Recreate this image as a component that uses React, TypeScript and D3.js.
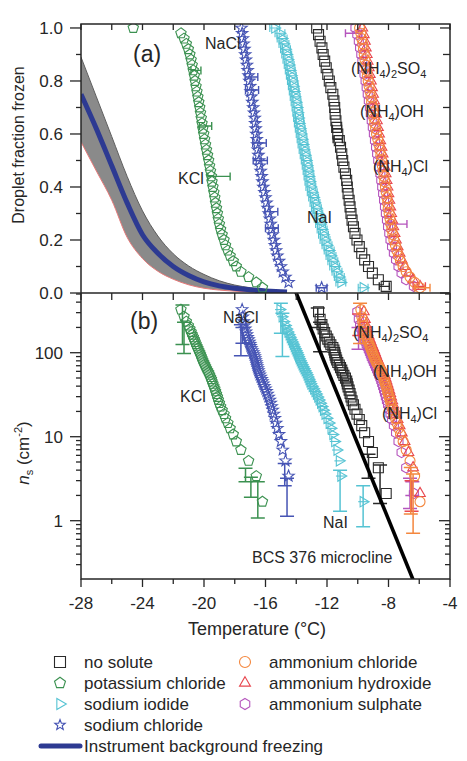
import * as d3 from "d3";

// freezing temperature of each droplet (°C), warmest droplet first
const noSoluteT = [-8.15, -8.66, -9.05, -9.3, -9.55, -9.74, -9.9, -10.05, -10.18, -10.28, -10.37, -10.44, -10.5, -10.56, -10.63, -10.68, -10.72, -10.8, -10.9, -10.98, -11.04, -11.12, -11.2, -11.3, -11.37, -11.42, -11.47, -11.5, -11.55, -11.62, -11.75, -11.85, -11.95, -12.05, -12.15, -12.25, -12.33, -12.45, -12.55, -12.67];
const kclT = [-16.2, -16.6, -17.1, -17.6, -17.9, -18.1, -18.3, -18.45, -18.6, -18.7, -18.82, -18.92, -19.0, -19.07, -19.13, -19.19, -19.25, -19.3, -19.36, -19.42, -19.48, -19.52, -19.58, -19.64, -19.7, -19.77, -19.84, -19.9, -19.96, -20.02, -20.08, -20.13, -20.18, -20.23, -20.28, -20.34, -20.4, -20.46, -20.52, -20.58, -20.63, -20.7, -20.77, -20.84, -20.92, -21.02, -21.15, -21.3, -21.5, -24.6];
const naiT = [-9.65, -11.1, -11.2, -11.35, -11.5, -11.62, -11.74, -11.86, -12.0, -12.13, -12.23, -12.32, -12.42, -12.51, -12.6, -12.69, -12.78, -12.87, -12.96, -13.05, -13.11, -13.17, -13.23, -13.29, -13.35, -13.42, -13.49, -13.56, -13.62, -13.68, -13.74, -13.8, -13.85, -13.9, -13.95, -14.01, -14.07, -14.13, -14.19, -14.25, -14.32, -14.39, -14.46, -14.54, -14.62, -14.7, -14.8, -14.92, -15.06, -15.4];
const naclT = [-12.35, -14.5, -14.7, -14.88, -15.0, -15.12, -15.23, -15.31, -15.39, -15.46, -15.53, -15.6, -15.66, -15.72, -15.79, -15.86, -15.93, -16.0, -16.07, -16.14, -16.2, -16.25, -16.31, -16.37, -16.42, -16.46, -16.5, -16.54, -16.57, -16.6, -16.64, -16.67, -16.7, -16.75, -16.8, -16.86, -16.92, -16.97, -17.0, -17.05, -17.1, -17.16, -17.21, -17.27, -17.32, -17.37, -17.42, -17.47, -17.52, -17.56];
const amClT = [-5.95, -6.3, -6.6, -6.85, -7.05, -7.22, -7.35, -7.45, -7.55, -7.65, -7.72, -7.79, -7.85, -7.9, -7.96, -8.02, -8.06, -8.1, -8.15, -8.2, -8.25, -8.3, -8.35, -8.4, -8.45, -8.5, -8.56, -8.62, -8.7, -8.78, -8.84, -8.9, -8.95, -9.0, -9.05, -9.1, -9.15, -9.2, -9.26, -9.32, -9.38, -9.43, -9.48, -9.53, -9.58, -9.63, -9.68, -9.74, -9.8, -9.88];
const amOHT = [-5.95, -6.4, -6.7, -6.95, -7.13, -7.27, -7.4, -7.51, -7.6, -7.68, -7.75, -7.82, -7.88, -7.94, -8.0, -8.06, -8.12, -8.18, -8.24, -8.31, -8.38, -8.45, -8.53, -8.61, -8.68, -8.75, -8.81, -8.87, -8.93, -9.0, -9.07, -9.14, -9.21, -9.28, -9.35, -9.41, -9.47, -9.53, -9.6, -9.7];
const amSO4T = [-6.35, -6.85, -7.15, -7.35, -7.51, -7.65, -7.77, -7.87, -7.95, -8.03, -8.1, -8.17, -8.23, -8.29, -8.35, -8.41, -8.47, -8.53, -8.6, -8.67, -8.74, -8.81, -8.88, -8.95, -9.02, -9.09, -9.15, -9.21, -9.28, -9.35, -9.42, -9.49, -9.56, -9.63, -9.7, -9.77, -9.85, -9.93, -10.03, -10.15];

// droplet surface area (cm2) used for n_s = -ln(1 - f) / A
const AREA = 0.012;
const NAI_T_ERR = 0.32;

// horizontal error bars, panel (a): [fraction, T low, T high]
const noSoluteBarsA = [[0.62, -11.65, -11.05], [0.58, -11.6, -11.0], [0.025, -8.6, -7.95]];
const kclBarsA = [[0.84, -20.85, -20.2], [0.63, -20.3, -19.5], [0.44, -19.75, -18.3]];
const naclBarsA = [[0.815, -17.33, -16.5], [0.766, -17.3, -16.45], [0.566, -16.83, -15.95], [0.5, -16.8, -15.88], [0.307, -16.03, -15.2], [0.244, -16.0, -15.17], [0.02, -12.7, -12.0]];
const amClBarsA = [[0.02, -6.3, -5.3]];
const amOHBarsA = [[0.025, -6.4, -5.6]];
const amSO4BarsA = [[0.98, -10.8, -9.74], [0.26, -7.9, -6.8]];

// vertical error bars, panel (b): [T, ns low, ns high]
const noSoluteBarsB = [[-12.6, 200, 340], [-12.45, 103, 230], [-9.3, 3.2, 6.2], [-8.55, 1.6, 4.6]];
const kclBarsB = [[-21.4, 125, 370], [-21.3, 98, 230], [-17.3, 2.9, 4.2], [-16.95, 1.9, 3.3], [-16.5, 1.08, 2.9]];
const naclBarsB = [[-17.6, 92, 215], [-17.5, 130, 200], [-14.75, 2.6, 4.8], [-14.6, 1.13, 3.2]];
const naiBarsB = [[-15.0, 170, 387], [-14.9, 90, 295], [-11.15, 1.3, 4.0], [-9.65, 0.85, 2.6]];
const amClBarsB = [[-9.85, 129, 387], [-6.4, 0.71, 3.6], [-6.55, 1.2, 4.3]];
const amOHBarsB = [[-9.9, 160, 290], [-6.5, 1.3, 3.0]];
const amSO4BarsB = [[-9.95, 110, 200], [-6.6, 1.4, 3.2], [-6.45, 2.0, 2.9]];

// instrument background freezing (fraction frozen) with uncertainty band
const bgT = [-28, -27, -26, -25, -24, -23, -22, -21, -20, -19, -18, -17, -16, -15, -14.6];
const bgMid = [0.75, 0.62, 0.48, 0.34, 0.22, 0.15, 0.1, 0.066, 0.042, 0.027, 0.018, 0.012, 0.008, 0.005, 0.004];
const bgHi = [0.89, 0.74, 0.59, 0.44, 0.31, 0.215, 0.148, 0.102, 0.07, 0.046, 0.03, 0.02, 0.013, 0.008, 0.006];
const bgLo = [0.57, 0.46, 0.35, 0.21, 0.13, 0.082, 0.052, 0.031, 0.018, 0.011, 0.007, 0.004, 0.003, 0.002, 0.002];

// BCS 376 microcline parameterisation (end points)
const microT = [-14.3, -6.2];
const microNs = [700, 0.161];

const xTicks = [-28, -26, -24, -22, -20, -18, -16, -14, -12, -10, -8, -6, -4];
const xLabels = [-28, -24, -20, -16, -12, -8, -4];
const fTicks = [0, 0.2, 0.4, 0.6, 0.8, 1.0];
const fMinor = [0.1, 0.3, 0.5, 0.7, 0.9];
const nsTicks = [1, 10, 100];

type Sym = "square" | "pentagon" | "triRight" | "star" | "circle" | "triUp" | "hexagon";

// skipB: droplets left out of the n_s plot (outliers)
const series = [
  { name: "no solute", temps: noSoluteT, color: "#2a2a2a", sym: "square" as Sym, size: 5, skipB: 0, barsA: noSoluteBarsA, barsB: noSoluteBarsB },
  { name: "potassium chloride", temps: kclT, color: "#3b9150", sym: "pentagon" as Sym, size: 5.2, skipB: 0, barsA: kclBarsA, barsB: kclBarsB },
  { name: "sodium iodide", temps: naiT, color: "#55c3d3", sym: "triRight" as Sym, size: 5.2, skipB: 0, barsA: [], barsB: naiBarsB },
  { name: "sodium chloride", temps: naclT, color: "#4654b4", sym: "star" as Sym, size: 6, skipB: 1, barsA: naclBarsA, barsB: naclBarsB },
  { name: "ammonium sulphate", temps: amSO4T, color: "#b555bd", sym: "hexagon" as Sym, size: 5.2, skipB: 0, barsA: amSO4BarsA, barsB: amSO4BarsB },
  { name: "ammonium hydroxide", temps: amOHT, color: "#e8474f", sym: "triUp" as Sym, size: 5.3, skipB: 0, barsA: amOHBarsA, barsB: amOHBarsB },
  { name: "ammonium chloride", temps: amClT, color: "#f4873e", sym: "circle" as Sym, size: 5, skipB: 0, barsA: amClBarsA, barsB: amClBarsB },
];

const legendLeft = ["no solute", "potassium chloride", "sodium iodide", "sodium chloride"];
const legendRight = ["ammonium chloride", "ammonium hydroxide", "ammonium sulphate"];

const FONT = "'Liberation Sans', Arial, Helvetica, sans-serif";
const INK = "#262626";
const NAVY = "#2d3a92";

function polygon(n: number, r: number, rot: number) {
  const pts = d3.range(n).map((i) => {
    const a = rot + (i * 2 * Math.PI) / n;
    return [r * Math.cos(a), r * Math.sin(a)];
  });
  return "M" + pts.map((p) => p[0].toFixed(2) + "," + p[1].toFixed(2)).join("L") + "Z";
}

function starPath(r: number) {
  const pts = d3.range(10).map((i) => {
    const a = -Math.PI / 2 + (i * Math.PI) / 5;
    const rr = i % 2 === 0 ? r : r * 0.42;
    return [rr * Math.cos(a), rr * Math.sin(a)];
  });
  return "M" + pts.map((p) => p[0].toFixed(2) + "," + p[1].toFixed(2)).join("L") + "Z";
}

function symbolPath(sym: Sym, s: number) {
  switch (sym) {
    case "square":
      return `M${-s},${-s}H${s}V${s}H${-s}Z`;
    case "pentagon":
      return polygon(5, s * 1.05, -Math.PI / 2);
    case "triRight":
      return polygon(3, s * 1.15, 0);
    case "star":
      return starPath(s);
    case "circle":
      return `M${s},0A${s},${s} 0 1,1 ${-s},0A${s},${s} 0 1,1 ${s},0Z`;
    case "triUp":
      return polygon(3, s * 1.15, -Math.PI / 2);
    case "hexagon":
      return polygon(6, s, -Math.PI / 2);
  }
  return "";
}

const x = d3.scaleLinear().domain([-28, -4]).range([81, 450]);
const yA = d3.scaleLinear().domain([0, 1.015]).range([293, 24]);
const yB = d3.scaleLog().domain([0.2023, 514]).range([579, 293]);

const NH4 = (rest: React.ReactNode) => (
  <>
    (NH<tspan fontSize={11} dy={4}>4</tspan>
    <tspan dy={-4}>)</tspan>
    {rest}
  </>
);

export default function App() {
  const left = x.range()[0];
  const right = x.range()[1];
  const topA = yA(1.015);
  const midY = yA(0);
  const botB = yB.range()[0];

  const nsMinor: number[] = [];
  [0.1, 1, 10, 100].forEach((d) => {
    for (let m = 2; m <= 9; m++) {
      const v = m * d;
      if (v >= 0.2023 && v <= 514) nsMinor.push(v);
    }
  });

  const bandArea = d3
    .area<number>()
    .x((t) => x(t))
    .y0((_, i) => yA(bgLo[i]))
    .y1((_, i) => yA(bgHi[i]))
    .curve(d3.curveMonotoneX);
  const lineOf = (arr: number[]) =>
    d3
      .line<number>()
      .x((_, i) => x(bgT[i]))
      .y((v) => yA(v))
      .curve(d3.curveMonotoneX)(arr) || "";

  const microLine =
    d3
      .line<number>()
      .x((t) => x(t))
      .y((_, i) => yB(microNs[i]))(microT) || "";

  const legendRow = (i: number) => 662 + i * 21;

  return (
    <svg
      width={467}
      height={761}
      viewBox="0 0 467 761"
      style={{ position: "absolute", left: 0, top: 0, background: "#fff" }}
      fontFamily={FONT}
    >
      <defs>
        <clipPath id="clipA">
          <rect x={left} y={topA} width={right - left} height={midY - topA} />
        </clipPath>
        <clipPath id="clipB">
          <rect x={left} y={midY} width={right - left} height={botB - midY} />
        </clipPath>
      </defs>

      {/* panel (a) */}
      <g clipPath="url(#clipA)">
        <path d={bandArea(bgT) || ""} fill="#8a8a8a" />
        <path d={lineOf(bgHi)} fill="none" stroke="#5e5e5e" strokeWidth={1} />
        <path d={lineOf(bgLo)} fill="none" stroke="#e77878" strokeWidth={1} />
        <path d={lineOf(bgMid)} fill="none" stroke={NAVY} strokeWidth={5} />
        {series.map((s) => {
          const n = s.temps.length;
          const pts = s.temps.map((t, i) => ({ t, f: (i + 1) / n }));
          const d = symbolPath(s.sym, s.size);
          return (
            <g key={s.name} stroke={s.color} fill="none" strokeWidth={1.1}>
              {s.sym === "triRight" &&
                pts.map((p, i) => (
                  <path
                    key={"e" + i}
                    d={`M${x(p.t - NAI_T_ERR)},${yA(p.f)}H${x(p.t + NAI_T_ERR)}M${x(p.t - NAI_T_ERR)},${yA(p.f) - 4}v8M${x(p.t + NAI_T_ERR)},${yA(p.f) - 4}v8`}
                  />
                ))}
              {s.barsA.map((b, i) => (
                <path
                  key={"b" + i}
                  strokeWidth={1.4}
                  d={`M${x(b[1])},${yA(b[0])}H${x(b[2])}M${x(b[1])},${yA(b[0]) - 4}v8M${x(b[2])},${yA(b[0]) - 4}v8`}
                />
              ))}
              {pts.map((p, i) => (
                <path key={i} d={d} transform={`translate(${x(p.t)},${yA(p.f)})`} />
              ))}
            </g>
          );
        })}
      </g>

      {/* panel (b) */}
      <g clipPath="url(#clipB)">
        {series.map((s) => {
          const n = s.temps.length;
          const pts = s.temps
            .map((t, i) => ({ t, f: (i + 1) / n }))
            .slice(s.skipB)
            .filter((p) => p.f < 1)
            .map((p) => ({ t: p.t, ns: -Math.log(1 - p.f) / AREA }));
          const d = symbolPath(s.sym, s.size);
          return (
            <g key={s.name} stroke={s.color} fill="none" strokeWidth={1.1}>
              {s.sym === "triRight" &&
                pts.map((p, i) => (
                  <path
                    key={"e" + i}
                    d={`M${x(p.t - NAI_T_ERR)},${yB(p.ns)}H${x(p.t + NAI_T_ERR)}`}
                  />
                ))}
              {s.barsB.map((b, i) => (
                <path
                  key={"b" + i}
                  strokeWidth={1.5}
                  d={`M${x(b[0])},${yB(b[1])}V${yB(b[2])}M${x(b[0]) - 7},${yB(b[1])}h14M${x(b[0]) - 7},${yB(b[2])}h14`}
                />
              ))}
              {pts.map((p, i) => (
                <path key={i} d={d} transform={`translate(${x(p.t)},${yB(p.ns)})`} />
              ))}
            </g>
          );
        })}
        <path d={microLine} stroke="#000" strokeWidth={3.6} fill="none" />
      </g>

      {/* frames */}
      <g stroke={INK} strokeWidth={1.5} fill="none">
        <rect x={left} y={topA} width={right - left} height={botB - topA} />
        <line x1={left} x2={right} y1={midY} y2={midY} />
      </g>

      {/* axes ticks */}
      <g stroke={INK} strokeWidth={1.3}>
        {fTicks.map((v) => (
          <line key={"fl" + v} x1={left - 11} x2={left} y1={yA(v)} y2={yA(v)} />
        ))}
        {fMinor.map((v) => (
          <line key={"fm" + v} x1={left - 5} x2={left} y1={yA(v)} y2={yA(v)} />
        ))}
        {[...fTicks, ...fMinor].map((v) => (
          <line key={"fr" + v} x1={right - (fTicks.includes(v) ? 10 : 7)} x2={right} y1={yA(v)} y2={yA(v)} />
        ))}
        {xTicks.map((t) => (
          <g key={"xt" + t}>
            <line x1={x(t)} x2={x(t)} y1={topA} y2={topA + 6} />
            <line x1={x(t)} x2={x(t)} y1={midY} y2={midY + 7} />
            <line x1={x(t)} x2={x(t)} y1={botB} y2={botB + (xLabels.includes(t) ? 8 : 5)} />
          </g>
        ))}
        {nsTicks.map((v) => (
          <g key={"nt" + v}>
            <line x1={left - 11} x2={left} y1={yB(v)} y2={yB(v)} />
            <line x1={right - 11} x2={right} y1={yB(v)} y2={yB(v)} />
          </g>
        ))}
        {nsMinor.map((v) => (
          <g key={"nm" + v}>
            <line x1={left - 5} x2={left} y1={yB(v)} y2={yB(v)} />
            <line x1={right - 5} x2={right} y1={yB(v)} y2={yB(v)} />
          </g>
        ))}
      </g>

      {/* tick labels */}
      <g fill={INK} fontSize={17}>
        {fTicks.map((v) => (
          <text key={"fl" + v} x={63} y={yA(v)} dy="0.36em" textAnchor="end">
            {v.toFixed(1)}
          </text>
        ))}
        {nsTicks.map((v) => (
          <text key={"nl" + v} x={63} y={yB(v)} dy="0.36em" textAnchor="end">
            {v}
          </text>
        ))}
        {xLabels.map((t) => (
          <text key={"xl" + t} x={x(t)} y={botB + 30} textAnchor="middle">
            {t}
          </text>
        ))}
      </g>

      {/* axis titles */}
      <text x={257} y={635} fontSize={18} fill={INK} textAnchor="middle">
        Temperature (°C)
      </text>
      <text transform="translate(24,145) rotate(-90)" fontSize={16} fill={INK} textAnchor="middle">
        Droplet fraction frozen
      </text>
      <text transform="translate(29,453) rotate(-90)" fontSize={17} fill={INK} textAnchor="middle">
        <tspan fontStyle="italic">n</tspan>
        <tspan fontSize={11} dy={4}>s</tspan>
        <tspan dy={-4}> (cm</tspan>
        <tspan fontSize={11} dy={-7}>-2</tspan>
        <tspan dy={7}>)</tspan>
      </text>

      {/* panel annotations */}
      <g fill={INK} fontSize={16}>
        <text x={133} y={62} fontSize={23}>(a)</text>
        <text x={130} y={329} fontSize={23}>(b)</text>
        <text x={205} y={49}>NaCl</text>
        <text x={178} y={184}>KCl</text>
        <text x={307} y={223}>NaI</text>
        <text x={351} y={74}>{NH4(<><tspan fontSize={11} dy={4}>2</tspan><tspan dy={-4}>SO</tspan><tspan fontSize={11} dy={4}>4</tspan></>)}</text>
        <text x={360} y={117}>{NH4(<tspan>OH</tspan>)}</text>
        <text x={373} y={172}>{NH4(<tspan>Cl</tspan>)}</text>
        <text x={223} y={323}>NaCl</text>
        <text x={180} y={402}>KCl</text>
        <text x={323} y={528}>NaI</text>
        <text x={353} y={338}>{NH4(<><tspan fontSize={11} dy={4}>2</tspan><tspan dy={-4}>SO</tspan><tspan fontSize={11} dy={4}>4</tspan></>)}</text>
        <text x={373} y={377}>{NH4(<tspan>OH</tspan>)}</text>
        <text x={382} y={419}>{NH4(<tspan>Cl</tspan>)}</text>
        <text x={252} y={563}>BCS 376 microcline</text>
      </g>

      {/* legend */}
      <g fontSize={17} fill={INK}>
        {legendLeft.map((name, i) => {
          const s = series.find((d) => d.name === name)!;
          return (
            <g key={name}>
              <path d={symbolPath(s.sym, 5.5)} transform={`translate(60,${legendRow(i)})`} fill="none" stroke={s.color} strokeWidth={1.1} />
              <text x={84} y={legendRow(i) + 6}>{name}</text>
            </g>
          );
        })}
        {legendRight.map((name, i) => {
          const s = series.find((d) => d.name === name)!;
          return (
            <g key={name}>
              <path d={symbolPath(s.sym, 5.5)} transform={`translate(245,${legendRow(i)})`} fill="none" stroke={s.color} strokeWidth={1.1} />
              <text x={269} y={legendRow(i) + 6}>{name}</text>
            </g>
          );
        })}
        <line x1={41} x2={80} y1={legendRow(4)} y2={legendRow(4)} stroke={NAVY} strokeWidth={5} strokeLinecap="round" />
        <text x={84} y={legendRow(4) + 6}>Instrument background freezing</text>
      </g>
    </svg>
  );
}
